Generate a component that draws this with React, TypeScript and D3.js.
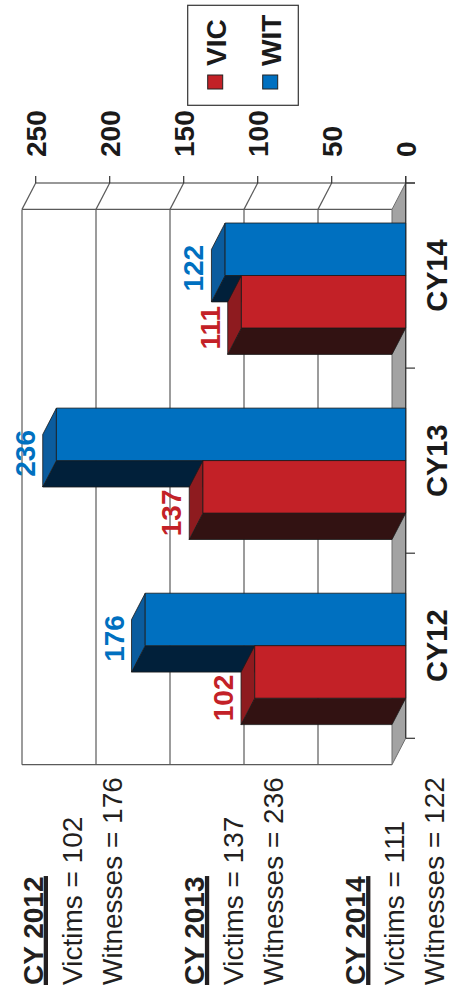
import React from 'react';
import * as d3 from 'd3';

const categories = ['CY12', 'CY13', 'CY14'];
const years = ['CY 2012', 'CY 2013', 'CY 2014'];
const vic = [102, 137, 111];
const wit = [176, 236, 122];
const seriesNames = ['VIC', 'WIT'];
const valueTicks = [0, 50, 100, 150, 200, 250];

const W = 454;
const H = 997;
const FONT = "'Liberation Sans', Arial, Helvetica, sans-serif";
const DX = -13.7;
const DY = 26.4;

const COLORS: Record<string, { front: string; side: string; bottom: string; label: string }> = {
  VIC: { front: '#C32127', side: '#8e1b1f', bottom: '#321212', label: '#C32127' },
  WIT: { front: '#0070C0', side: '#0b5c9e', bottom: '#01203a', label: '#0070C0' },
};

function measure(text: string, font: string): number {
  try {
    const c = document.createElement('canvas');
    const ctx = c.getContext('2d');
    if (!ctx) return text.length * 15;
    ctx.font = font;
    return ctx.measureText(text).width;
  } catch (e) {
    return text.length * 15;
  }
}

export default function App() {
  const x = d3.scaleLinear().domain([0, 250]).range([405.7, 35.7]);
  const y = d3.scaleBand<string>().domain([...categories].reverse()).range([183, 738.3]);
  const inner = d3.scaleBand<string>().domain(['WIT', 'VIC']).range([40, 145]);
  const x0 = x(0);
  const yTop = y.range()[0];
  const yBot = y.range()[1];
  const valueOf = (s: string, i: number) => (s === 'VIC' ? vic[i] : wit[i]);

  const bars: JSX.Element[] = [];
  const labels: JSX.Element[] = [];
  [...categories].reverse().forEach((cat) => {
    const i = categories.indexOf(cat);
    ['WIT', 'VIC'].forEach((s) => {
      const v = valueOf(s, i);
      const y0 = (y(cat) as number) + (inner(s) as number);
      const h = inner.bandwidth();
      const xv = x(v);
      const c = COLORS[s];
      bars.push(
        <g key={cat + s} stroke="#1a1a1a" strokeWidth={0.8} strokeLinejoin="round">
          <polygon
            points={`${xv},${y0 + h} ${x0},${y0 + h} ${x0 + DX},${y0 + h + DY} ${xv + DX},${y0 + h + DY}`}
            fill={c.bottom}
          />
          <polygon
            points={`${xv},${y0} ${xv + DX},${y0 + DY} ${xv + DX},${y0 + h + DY} ${xv},${y0 + h}`}
            fill={c.side}
          />
          <rect x={xv} y={y0} width={x0 - xv} height={h} fill={c.front} />
        </g>
      );
      const ly = y0 + h / 2 + (s === 'WIT' ? 19 : 26);
      const lx = xv + DX - 8;
      labels.push(
        <text
          key={'l' + cat + s}
          transform={`translate(${lx},${ly}) rotate(-90)`}
          textAnchor="middle"
          fontFamily={FONT}
          fontWeight="bold"
          fontSize={28}
          fill={c.label}
        >
          {v}
        </text>
      );
    });
  });

  const headerFont = `bold 28px ${FONT}`;

  return (
    <svg
      width={W}
      height={H}
      style={{ position: 'absolute', left: 0, top: 0, background: '#fff' }}
    >
      <rect x={0} y={0} width={W} height={H} fill="#fff" />

      {/* back wall frame and gridlines */}
      <g stroke="#5a5a5a" strokeWidth={1.2} fill="none">
        <line x1={x(250) + DX} x2={x0 + DX} y1={yTop + DY} y2={yTop + DY} />
        <line x1={x(250) + DX} x2={x0 + DX} y1={yBot + DY} y2={yBot + DY} />
        {valueTicks.filter((t) => t > 0).map((t) => (
          <line key={'g' + t} x1={x(t) + DX} x2={x(t) + DX} y1={yTop + DY} y2={yBot + DY} />
        ))}
        {valueTicks.filter((t) => t > 0).map((t) => (
          <line key={'s' + t} x1={x(t)} x2={x(t) + DX} y1={yTop} y2={yTop + DY} />
        ))}
      </g>

      {/* floor */}
      <polygon
        points={`${x0},${yTop} ${x0},${yBot} ${x0 + DX},${yBot + DY} ${x0 + DX},${yTop + DY}`}
        fill="#a3a3a3"
        stroke="#6e6e6e"
        strokeWidth={1}
      />

      {/* value axis line and ticks */}
      <g stroke="#333" strokeWidth={1.2}>
        <line x1={x(250)} x2={x0 + 9.3} y1={yTop} y2={yTop} />
        {valueTicks.map((t) => (
          <line key={'t' + t} x1={x(t)} x2={x(t)} y1={yTop - 7} y2={yTop} />
        ))}
        <line x1={x0} x2={x0} y1={yTop - 7} y2={yBot} />
        {[...categories.map((c) => y(c) as number), yBot].map((b, k) => (
          <line key={'ct' + k} x1={x0} x2={x0 + 9.3} y1={b} y2={b} />
        ))}
      </g>

      {/* value tick labels */}
      {valueTicks.map((t) => (
        <text
          key={'vl' + t}
          transform={`translate(${x(t)},157) rotate(-90)`}
          dy="0.36em"
          textAnchor="start"
          fontFamily={FONT}
          fontWeight="bold"
          fontSize={28}
          fill="#1a1a1a"
        >
          {t}
        </text>
      ))}

      {bars}
      {labels}

      {/* category labels */}
      {categories.map((c) => (
        <text
          key={'cl' + c}
          transform={`translate(447,${(y(c) as number) + y.bandwidth() / 2}) rotate(-90)`}
          textAnchor="middle"
          fontFamily={FONT}
          fontWeight="bold"
          fontSize={29}
          fill="#1a1a1a"
        >
          {c}
        </text>
      ))}

      {/* legend */}
      <rect x={187.7} y={5.3} width={110.6} height={100} fill="#fff" stroke="#333" strokeWidth={1.2} />
      {seriesNames.map((s, k) => {
        const bx = 226 + k * 55;
        return (
          <g key={'lg' + s}>
            <rect x={bx - 18.3} y={75} width={15} height={14} fill={COLORS[s].front} stroke="#222" strokeWidth={1} />
            <text
              transform={`translate(${bx},66) rotate(-90)`}
              textAnchor="start"
              fontFamily={FONT}
              fontWeight="bold"
              fontSize={28}
              fill="#1a1a1a"
            >
              {s}
            </text>
          </g>
        );
      })}

      {/* summary text block */}
      {years.map((yr, i) => {
        const base = 42.7 + i * 161.2;
        const len = measure(yr, headerFont);
        return (
          <g key={'tb' + i} fontFamily={FONT} fill="#231f20">
            <text transform={`translate(${base},985) rotate(-90)`} fontWeight="bold" fontSize={28}>
              {yr}
            </text>
            <rect x={base + 1} y={985 - len} width={4.3} height={len} fill="#231f20" />
            <text transform={`translate(${base + 39},985) rotate(-90)`} fontSize={28}>
              {`Victims = ${vic[i]}`}
            </text>
            <text transform={`translate(${base + 79},985) rotate(-90)`} fontSize={28}>
              {`Witnesses = ${wit[i]}`}
            </text>
          </g>
        );
      })}
    </svg>
  );
}
